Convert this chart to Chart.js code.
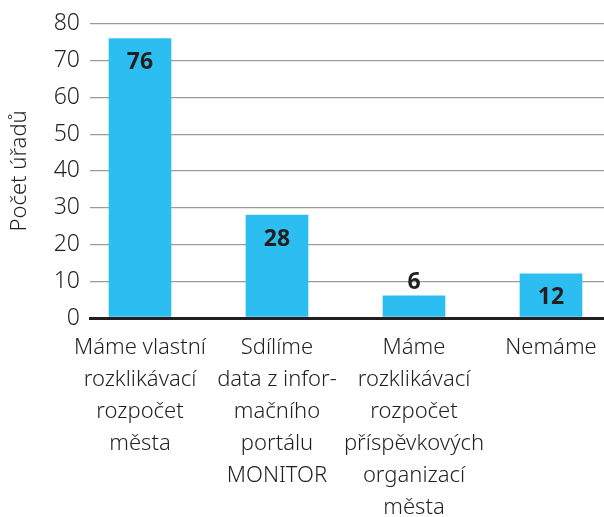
<!DOCTYPE html>
<html>
<head>
    <style>
        body {
            margin: 0;
            overflow: hidden;
            background: #fff;
        }

        #wrap {
            width: 604px;
            height: 517px;
        }
    </style>
    <script src="https://cdn.jsdelivr.net/npm/chart.js"></script>
</head>
<body>
    <div id="wrap"><canvas id="budgetChart"></canvas></div>

    <script>
        const categories = [
            ['Máme vlastní', 'rozklikávací', 'rozpočet', 'města'],
            ['Sdílíme', 'data z infor-', 'mačního', 'portálu', 'MONITOR'],
            ['Máme', 'rozklikávací', 'rozpočet', 'příspěvkových', 'organizací', 'města'],
            ['Nemáme']
        ];
        const counts = [76, 28, 6, 12];
        const yTicks = [0, 10, 20, 30, 40, 50, 60, 70, 80];
        const yTitle = 'Počet úřadů';

        const ink = '#231f20';
        const fontName = "'Noto Sans', sans-serif";

        // value labels: inside the bar near its top, above it when the bar is too short
        const valueLabels = {
            id: 'valueLabels',
            afterDatasetsDraw(chart) {
                const ctx = chart.ctx;
                const meta = chart.getDatasetMeta(0);
                ctx.save();
                ctx.font = 'bold 23px ' + fontName;
                ctx.fillStyle = ink;
                ctx.textAlign = 'center';
                ctx.textBaseline = 'middle';
                meta.data.forEach((bar, i) => {
                    const h = bar.base - bar.y;
                    const y = h > 40 ? bar.y + 24 : bar.y - 13;
                    ctx.fillText(String(counts[i]), bar.x, y);
                });
                ctx.restore();
            }
        };

        new Chart(document.getElementById('budgetChart'), {
            type: 'bar',
            data: {
                datasets: [{
                    data: counts.map((v, i) => ({ x: i, y: v })),
                    backgroundColor: '#2cbef0',
                    borderWidth: 0,
                    barThickness: 62
                }]
            },
            options: {
                responsive: true,
                maintainAspectRatio: false,
                animation: false,
                layout: { padding: { top: 8, right: 0, left: 0, bottom: 0 } },
                plugins: {
                    legend: { display: false },
                    tooltip: { enabled: false }
                },
                scales: {
                    x: {
                        type: 'linear',
                        offset: false,
                        min: -0.365,
                        max: 3.387,
                        afterBuildTicks: s => { s.ticks = categories.map((_, i) => ({ value: i })); },
                        afterFit: s => { s.height = 199; s.paddingLeft = 0; s.paddingRight = 0; },
                        grid: { display: false, drawTicks: false },
                        border: { display: true, color: ink, width: 3 },
                        ticks: {
                            autoSkip: false,
                            maxRotation: 0,
                            padding: 14,
                            color: ink,
                            font: { family: fontName, size: 22, weight: 300, lineHeight: '32px' },
                            callback: v => categories[v]
                        }
                    },
                    y: {
                        min: 0,
                        max: 80,
                        afterBuildTicks: s => { s.ticks = yTicks.map(v => ({ value: v })); },
                        afterFit: s => { s.width = 90; },
                        border: { display: false },
                        grid: {
                            drawTicks: false,
                            color: c => c.tick.value === 0 ? ink : '#9a9a9a',
                            lineWidth: c => c.tick.value === 0 ? 3 : 1.2
                        },
                        ticks: {
                            padding: 10,
                            color: ink,
                            font: { family: fontName, size: 23, weight: 300 }
                        },
                        title: {
                            display: true,
                            text: yTitle,
                            color: ink,
                            padding: { top: 7, bottom: 0 },
                            font: { family: fontName, size: 22, weight: 300 }
                        }
                    }
                }
            },
            plugins: [valueLabels]
        });
    </script>
</body>
</html>
